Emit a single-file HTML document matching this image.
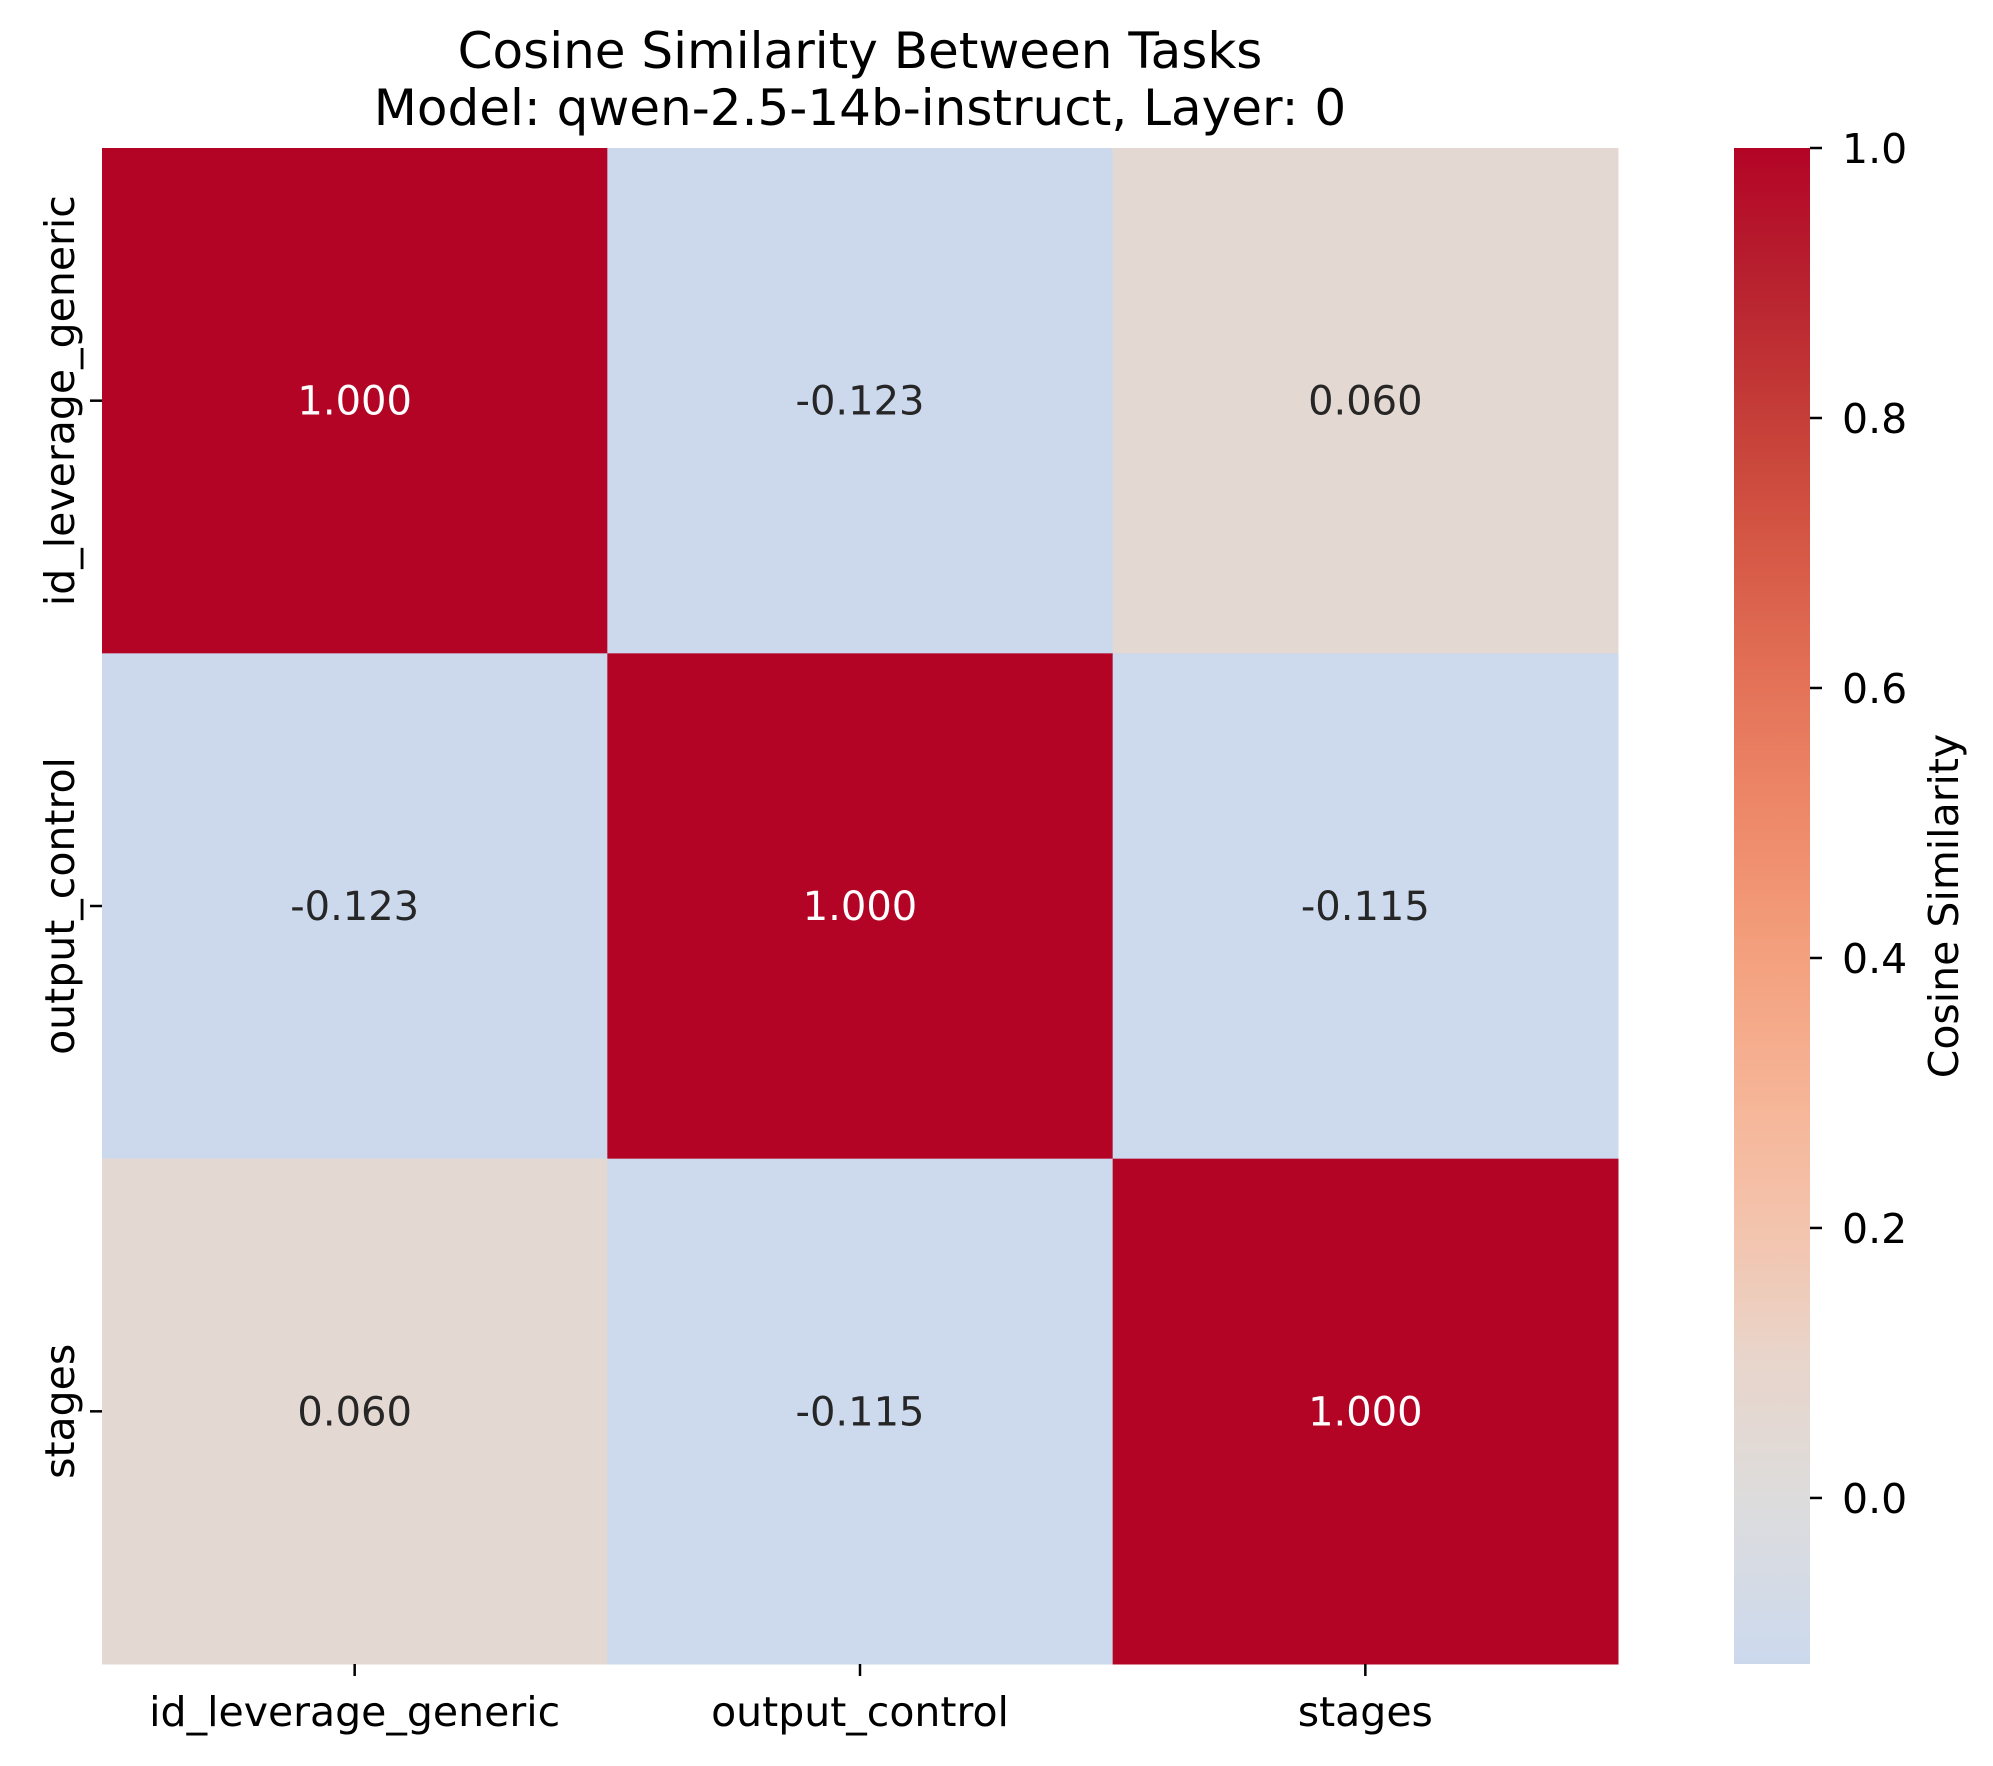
<!DOCTYPE html>
<html><head><meta charset="utf-8"><style>
html,body{margin:0;padding:0;background:#fff;}
svg{display:block;font-family:"DejaVu Sans","Liberation Sans",sans-serif;}
</style></head><body>
<svg id="chart" width="1993" height="1766" viewBox="0 0 1993 1766" xmlns="http://www.w3.org/2000/svg">
<defs><linearGradient id="cbgrad" x1="0" y1="0" x2="0" y2="1"></linearGradient></defs>
<g>
<text x="860" y="68" font-size="50" text-anchor="middle" fill="#000">Cosine Similarity Between Tasks</text>
<text x="860" y="125" font-size="50" text-anchor="middle" fill="#000">Model: qwen-2.5-14b-instruct, Layer: 0</text>
</g>
<g id="cells"></g>
<g id="xaxis"></g>
<g id="yaxis"></g>
<g id="cbar"></g>
</svg>
<script>
const categories = ["id_leverage_generic", "output_control", "stages"];
const row0 = [1.000, -0.123, 0.060];
const row1 = [-0.123, 1.000, -0.115];
const row2 = [0.060, -0.115, 1.000];
const matrix = [row0, row1, row2];
const cbTicks = [0.0, 0.2, 0.4, 0.6, 0.8, 1.0];
const vmin = -0.123, vmax = 1.0;

const L = 102, R = 1618, T = 148, B = 1664;
const CBL = 1734, CBR = 1810;
const NS = "http://www.w3.org/2000/svg";
const n = categories.length;
const cw = (R - L) / n, ch = (B - T) / n;
function xPos(i){ return L + i * cw; }
function yPos(j){ return T + j * ch; }
function cbY(v){ return T + (vmax - v) / (vmax - vmin) * (B - T); }

const cmapStops = [
 [0.40,[192,212,245]],[0.45,[207,218,235]],[0.50,[221,220,220]],[0.55,[232,213,203]],
 [0.60,[244,196,173]],[0.65,[246,180,150]],[0.70,[244,160,126]],[0.75,[238,138,106]],
 [0.80,[228,115,88]],[0.85,[214,89,70]],[0.90,[197,62,56]],[0.95,[184,34,47]],[1.00,[180,4,38]]];
function cmap(t){
  for(let k=0;k<cmapStops.length-1;k++){
    const a=cmapStops[k], b=cmapStops[k+1];
    if(t<=b[0]){ const f=Math.max(0,(t-a[0])/(b[0]-a[0]));
      return a[1].map((c,i)=>Math.round(c+(b[1][i]-c)*f)); }
  }
  return cmapStops[cmapStops.length-1][1];
}
function colorFor(v){ const t=0.5+v/2; const c=cmap(t); return {rgb:`rgb(${c[0]},${c[1]},${c[2]})`, lum:(0.299*c[0]+0.587*c[1]+0.114*c[2])}; }
function mk(tag, attrs, parent){ const e=document.createElementNS(NS,tag); for(const k in attrs) e.setAttribute(k,attrs[k]); parent.appendChild(e); return e; }

const cells=document.getElementById('cells');


matrix.forEach((row,j)=>{
  row.forEach((v,i)=>{
    const c=colorFor(v);
    const r=mk('rect',{x:xPos(i),y:yPos(j),width:cw+0.5,height:ch+0.5,fill:c.rgb},cells);
    
    
    const t=mk('text',{x:xPos(i)+cw/2,y:yPos(j)+ch/2+14,'font-size':40,'text-anchor':'middle',fill:c.lum<128?'#ffffff':'#262626'},cells);
    t.textContent=v.toFixed(3);
    
    
  });
});

const xa=document.getElementById('xaxis');


const ya=document.getElementById('yaxis');


categories.forEach((c,i)=>{
  const cx=xPos(i)+cw/2;
  const tk=mk('line',{x1:cx,y1:B,x2:cx,y2:B+12,stroke:'#000','stroke-width':2.5},xa);
  
  
  const tl=mk('text',{x:cx,y:1726,'font-size':41,'text-anchor':'middle',fill:'#000'},xa);
  tl.textContent=c;
  
  
  const cy=yPos(i)+ch/2;
  const yk=mk('line',{x1:L-12,y1:cy,x2:L,y2:cy,stroke:'#000','stroke-width':2.5},ya);
  
  
  const yl=mk('text',{x:0,y:0,'font-size':41,'text-anchor':'middle',fill:'#000',transform:`translate(74,${cy}) rotate(-90)`},ya);
  yl.textContent=c;
  
  
});

const grad=document.getElementById('cbgrad');
for(let k=0;k<=40;k++){
  const v=vmax-(vmax-vmin)*k/40;
  mk('stop',{offset:(k/40),'stop-color':colorFor(v).rgb},grad);
}
const cb=document.getElementById('cbar');


const cbr=mk('rect',{x:CBL,y:T,width:CBR-CBL,height:B-T,fill:'url(#cbgrad)'},cb);


cbTicks.forEach(v=>{
  const y=cbY(v);
  const l=mk('line',{x1:CBR,y1:y,x2:CBR+12,y2:y,stroke:'#000','stroke-width':2.5},cb);
  
  
  const t=mk('text',{x:1842,y:y+15,'font-size':41,fill:'#000'},cb);
  t.textContent=v.toFixed(1);
  
  
});
const cl=mk('text',{x:0,y:0,'font-size':41,'text-anchor':'middle',fill:'#000',transform:`translate(1958,${(T+B)/2}) rotate(-90)`},cb);
cl.textContent='Cosine Similarity';


</script>
</body></html>
